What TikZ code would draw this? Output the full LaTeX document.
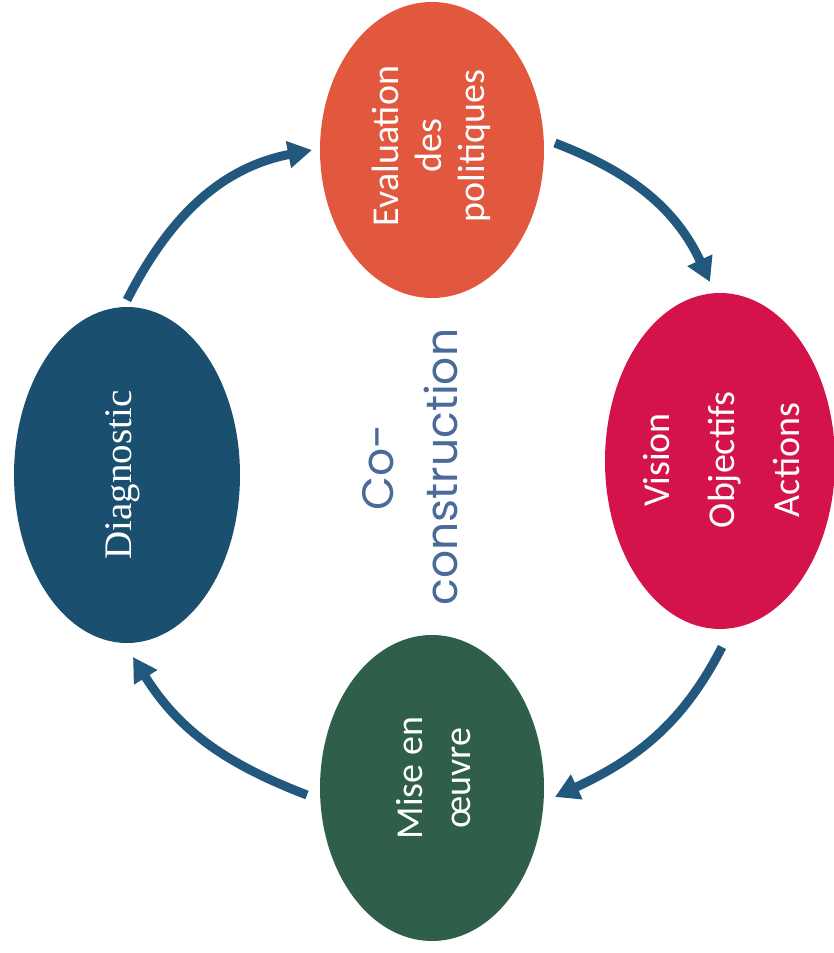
\documentclass[tikz,border=0pt]{standalone}
\usepackage{fontspec}
\setmainfont{Carlito}
\newfontfamily\serifface{Liberation Serif}
\newfontfamily\roundface{Poppins}
\usetikzlibrary{shapes.geometric,arrows.meta}
\definecolor{cOrange}{HTML}{E2583E}
\definecolor{cCrimson}{HTML}{D4134B}
\definecolor{cNavy}{HTML}{1B4F6F}
\definecolor{cGreen}{HTML}{2F5E4A}
\definecolor{cArrow}{HTML}{22587D}
\definecolor{cTitle}{HTML}{4A6A9A}
\tikzset{
  blob/.style={ellipse, draw=none, inner sep=0pt, outer sep=0pt},
  blobtext/.style={text=white, align=center, rotate=90, inner sep=0pt},
  cycarrow/.style={draw=cArrow, line width=9pt, -{Triangle[length=24pt,width=26pt]}},
}
\begin{document}
\begin{tikzpicture}[x=1pt,y=1pt]
\useasboundingbox (0,0) rectangle (833,953);
% the four stages
\node[blob, fill=cOrange,  minimum width=224pt, minimum height=296pt] (eval) at (432,803) {};
\node[blob, fill=cCrimson, minimum width=230pt, minimum height=336pt] (vis)  at (720,492) {};
\node[blob, fill=cNavy,    minimum width=226pt, minimum height=336pt] (diag) at (127,478) {};
\node[blob, fill=cGreen,   minimum width=224pt, minimum height=306pt] (mise) at (432,165) {};
% stage labels
\node[blobtext, font=\fontsize{38}{43}\selectfont] (evalt) at (431,807) {Evaluation\\des\\politiques};
\node[blobtext, font=\fontsize{38}{65}\selectfont] (vist) at (722,493) {Vision\\Objectifs\\Actions};
\node[blobtext, font=\serifface\fontsize{39}{46}\selectfont] (diagt) at (123,478) {Diagnostic};
\node[blobtext, font=\fontsize{38}{48}\selectfont] (miset) at (434,175) {Mise en\\\oe uvre};
% centre title
\node[text=cTitle, align=center, rotate=90, inner sep=0pt, font=\roundface\fontsize{44}{64}\selectfont] (title) at (410,486) {Co-\\construction};
% cycle arrows
\draw[cycarrow] ([yshift=7pt]diag.north) to[out=63,in=191] ([xshift=-8pt]eval.west);
\draw[cycarrow] ([shift={(11pt,7pt)}]eval.east) to[out=-21,in=115] ([shift={(-10pt,11pt)}]vis.north);
\draw[cycarrow] ([shift={(2pt,-18pt)}]vis.south) to[out=243,in=25] ([shift={(11pt,-9pt)}]mise.east);
\draw[cycarrow] ([shift={(-13pt,-7pt)}]mise.west) to[out=159,in=302] ([shift={(6pt,-14pt)}]diag.south);
\end{tikzpicture}
\end{document}
